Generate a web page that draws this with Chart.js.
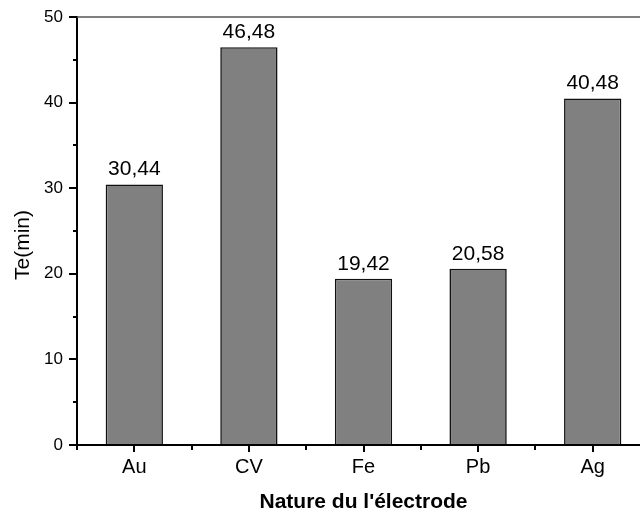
<!DOCTYPE html>
<html>
<head>
<meta charset="utf-8">
<script src="https://cdn.jsdelivr.net/npm/chart.js@4"></script>
<style>
  html, body { margin: 0; padding: 0; overflow: hidden; background: #fff; }
  #wrap { width: 660px; height: 513px; position: relative; }
</style>
</head>
<body>
<div id="wrap"><canvas id="chart"></canvas></div>
<script>
// data
const electrodes = ['Au', 'CV', 'Fe', 'Pb', 'Ag'];
const teMinutes = [30.44, 46.48, 19.42, 20.58, 40.48];
const yTicks = [0, 10, 20, 30, 40, 50];
const yMinorTicks = [5, 15, 25, 35, 45];

const FONT = '"Liberation Sans", Arial, sans-serif';

// minor ticks, top frame line, value labels, y title
const extrasPlugin = {
  id: 'extras',
  afterDatasetsDraw(chart) {
    const ctx = chart.ctx;
    const area = chart.chartArea;
    const xs = chart.scales.x;
    const ys = chart.scales.y;
    ctx.save();

    // top frame line
    ctx.strokeStyle = '#555';
    ctx.lineWidth = 1.5;
    ctx.beginPath();
    ctx.moveTo(area.left, area.top);
    ctx.lineTo(area.right, area.top);
    ctx.stroke();

    // minor ticks
    ctx.strokeStyle = '#000';
    ctx.lineWidth = 2;
    yMinorTicks.forEach(v => {
      const y = Math.round(ys.getPixelForValue(v));
      ctx.beginPath();
      ctx.moveTo(area.left - 4, y);
      ctx.lineTo(area.left, y);
      ctx.stroke();
    });
    const centers = electrodes.map((_, i) => xs.getPixelForValue(i));
    const step = centers.length > 1 ? centers[1] - centers[0] : 0;
    const edges = [centers[0] - step / 2].concat(centers.map(c => c + step / 2));
    edges.forEach(x => {
      ctx.beginPath();
      ctx.moveTo(Math.round(x), area.bottom);
      ctx.lineTo(Math.round(x), area.bottom + 5);
      ctx.stroke();
    });

    // value labels
    ctx.fillStyle = '#000';
    ctx.font = '21px ' + FONT;
    ctx.textAlign = 'center';
    ctx.textBaseline = 'alphabetic';
    chart.getDatasetMeta(0).data.forEach((bar, i) => {
      ctx.fillText(teMinutes[i].toFixed(2).replace('.', ','), bar.x, bar.y - 9);
    });

    // y axis title
    ctx.translate(23, 245);
    ctx.rotate(-Math.PI / 2);
    ctx.textBaseline = 'middle';
    ctx.fillText('Te(min)', 0, 0);
    ctx.restore();
  }
};

new Chart(document.getElementById('chart'), {
  type: 'bar',
  data: {
    labels: electrodes,
    datasets: [{
      data: teMinutes,
      backgroundColor: '#808080',
      borderColor: '#111',
      borderWidth: 1.6,
      barPercentage: 0.5,
      categoryPercentage: 1.0
    }]
  },
  options: {
    responsive: true,
    maintainAspectRatio: false,
    animation: false,
    layout: { padding: { left: 0, right: 10, top: 17, bottom: 0 } },
    plugins: {
      legend: { display: false },
      tooltip: { enabled: false }
    },
    scales: {
      x: {
        grid: { offset: false, drawOnChartArea: false, tickLength: 7, color: '#000', lineWidth: 2 },
        border: { color: '#000', width: 2 },
        ticks: { color: '#000', padding: 3, font: { family: FONT, size: 20 } },
        title: {
          display: true,
          text: "Nature du l'électrode",
          color: '#000',
          padding: { top: 0, bottom: 0 },
          font: { family: FONT, size: 21, weight: 'bold', lineHeight: 1 }
        },
        afterFit(scale) { scale.height = 68; }
      },
      y: {
        min: 0,
        max: 50,
        afterBuildTicks(scale) { scale.ticks = yTicks.map(v => ({ value: v })); },
        grid: { drawOnChartArea: false, tickLength: 8, color: '#000', lineWidth: 2 },
        border: { color: '#000', width: 2 },
        ticks: { color: '#000', padding: 6, font: { family: FONT, size: 17 } },
        afterFit(scale) { scale.width = 77; }
      }
    }
  },
  plugins: [extrasPlugin]
});
</script>
</body>
</html>
